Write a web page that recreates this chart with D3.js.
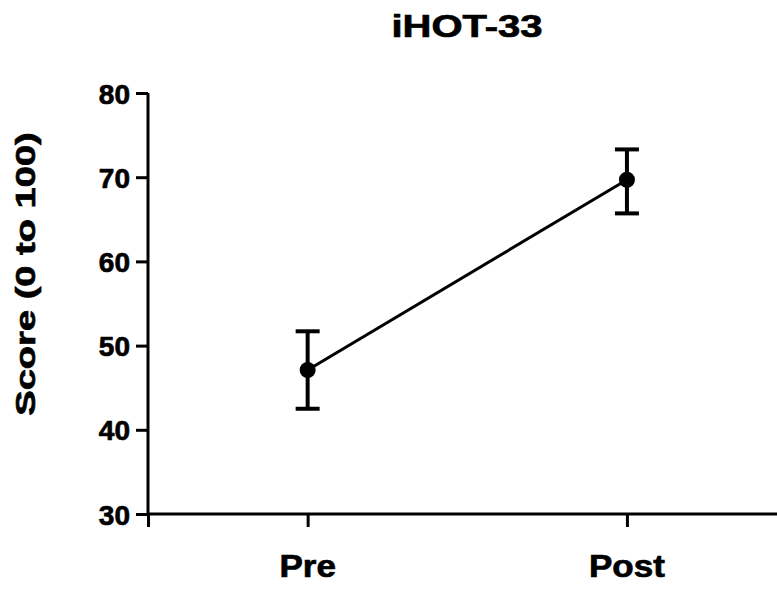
<!DOCTYPE html>
<meta charset="utf-8">
<title>iHOT-33</title>
<style>
    body { margin: 0; background: #fff; }
    text { font-family: Arial, "Liberation Sans", sans-serif; font-weight: bold; fill: #000; stroke: #000; stroke-width: 0.7px; }
</style>
<svg width="777" height="590"></svg>
<script src="https://cdn.jsdelivr.net/npm/d3@7"></script>
<script>

    var groups = ["Pre", "Post"];
    var means = [47.1, 69.7];
    var upper = [51.7, 73.3];
    var lower = [42.5, 65.7];
    var yTicks = [30, 40, 50, 60, 70, 80];

    var svg = d3.select("svg");

    var x = d3.scaleLinear().domain([-0.5, 1.47]).range([148, 777]);
    var y = d3.scaleLinear().domain([30, 80]).range([514, 93]);

    // title (the original type is a bit wide, so stretch it)
    svg.append("text")
        .attr("transform", "translate(467,37) scale(1.29,1)")
        .attr("text-anchor", "middle")
        .style("font-size", "31px")
        .text("iHOT-33");

    // y axis label
    svg.append("text")
        .attr("transform", "translate(35,274) rotate(-90) scale(1.36,1)")
        .attr("text-anchor", "middle")
        .style("font-size", "28px")
        .text("Score (0 to 100)");

    // y axis
    var yAxis = svg.append("g")
        .attr("transform", "translate(148,0)")
        .call(d3.axisLeft(y).tickValues(yTicks).tickSize(12).tickPadding(6));
    yAxis.select(".domain").attr("d", "M0," + y(80) + "V" + y(30)).attr("stroke-width", 3);
    yAxis.selectAll(".tick line").attr("stroke-width", 3);
    yAxis.selectAll(".tick text")
        .attr("font-family", null).attr("font-size", null)
        .style("font-size", "28px").attr("dy", "0.36em");

    // x axis
    var xAxis = svg.append("g")
        .attr("transform", "translate(0," + y(30) + ")")
        .call(d3.axisBottom(x).tickValues([-0.5, 0, 1]).tickSize(13).tickFormat(""));
    xAxis.select(".domain").attr("d", "M148,0H777").attr("stroke-width", 3);
    xAxis.selectAll(".tick line").attr("stroke-width", 3);

    svg.selectAll(".grp-label")
        .data(groups)
        .enter().append("text")
        .attr("class", "grp-label")
        .attr("transform", function (d, i) { return "translate(" + x(i) + ",577) scale(1.13,1)"; })
        .attr("text-anchor", "middle")
        .style("font-size", "31px")
        .text(function (d) { return d; });

    // connecting line
    var line = d3.line()
        .x(function (d, i) { return x(i); })
        .y(function (d) { return y(d); });

    svg.append("path")
        .datum(means)
        .attr("d", line)
        .attr("fill", "none")
        .attr("stroke", "#000")
        .attr("stroke-width", 3);

    // error bars
    var err = svg.append("g").selectAll("g")
        .data(groups)
        .enter().append("g")
        .attr("stroke", "#000")
        .attr("stroke-width", 4);

    err.append("line")
        .attr("x1", function (d, i) { return x(i); })
        .attr("x2", function (d, i) { return x(i); })
        .attr("y1", function (d, i) { return y(upper[i]); })
        .attr("y2", function (d, i) { return y(lower[i]); });

    err.append("line")
        .attr("x1", function (d, i) { return x(i) - 12; })
        .attr("x2", function (d, i) { return x(i) + 12; })
        .attr("y1", function (d, i) { return y(upper[i]); })
        .attr("y2", function (d, i) { return y(upper[i]); });

    err.append("line")
        .attr("x1", function (d, i) { return x(i) - 12; })
        .attr("x2", function (d, i) { return x(i) + 12; })
        .attr("y1", function (d, i) { return y(lower[i]); })
        .attr("y2", function (d, i) { return y(lower[i]); });

    svg.selectAll(".dot")
        .data(means)
        .enter().append("circle")
        .attr("class", "dot")
        .attr("cx", function (d, i) { return x(i); })
        .attr("cy", function (d) { return y(d); })
        .attr("r", 8)
        .attr("fill", "#000");

</script>
